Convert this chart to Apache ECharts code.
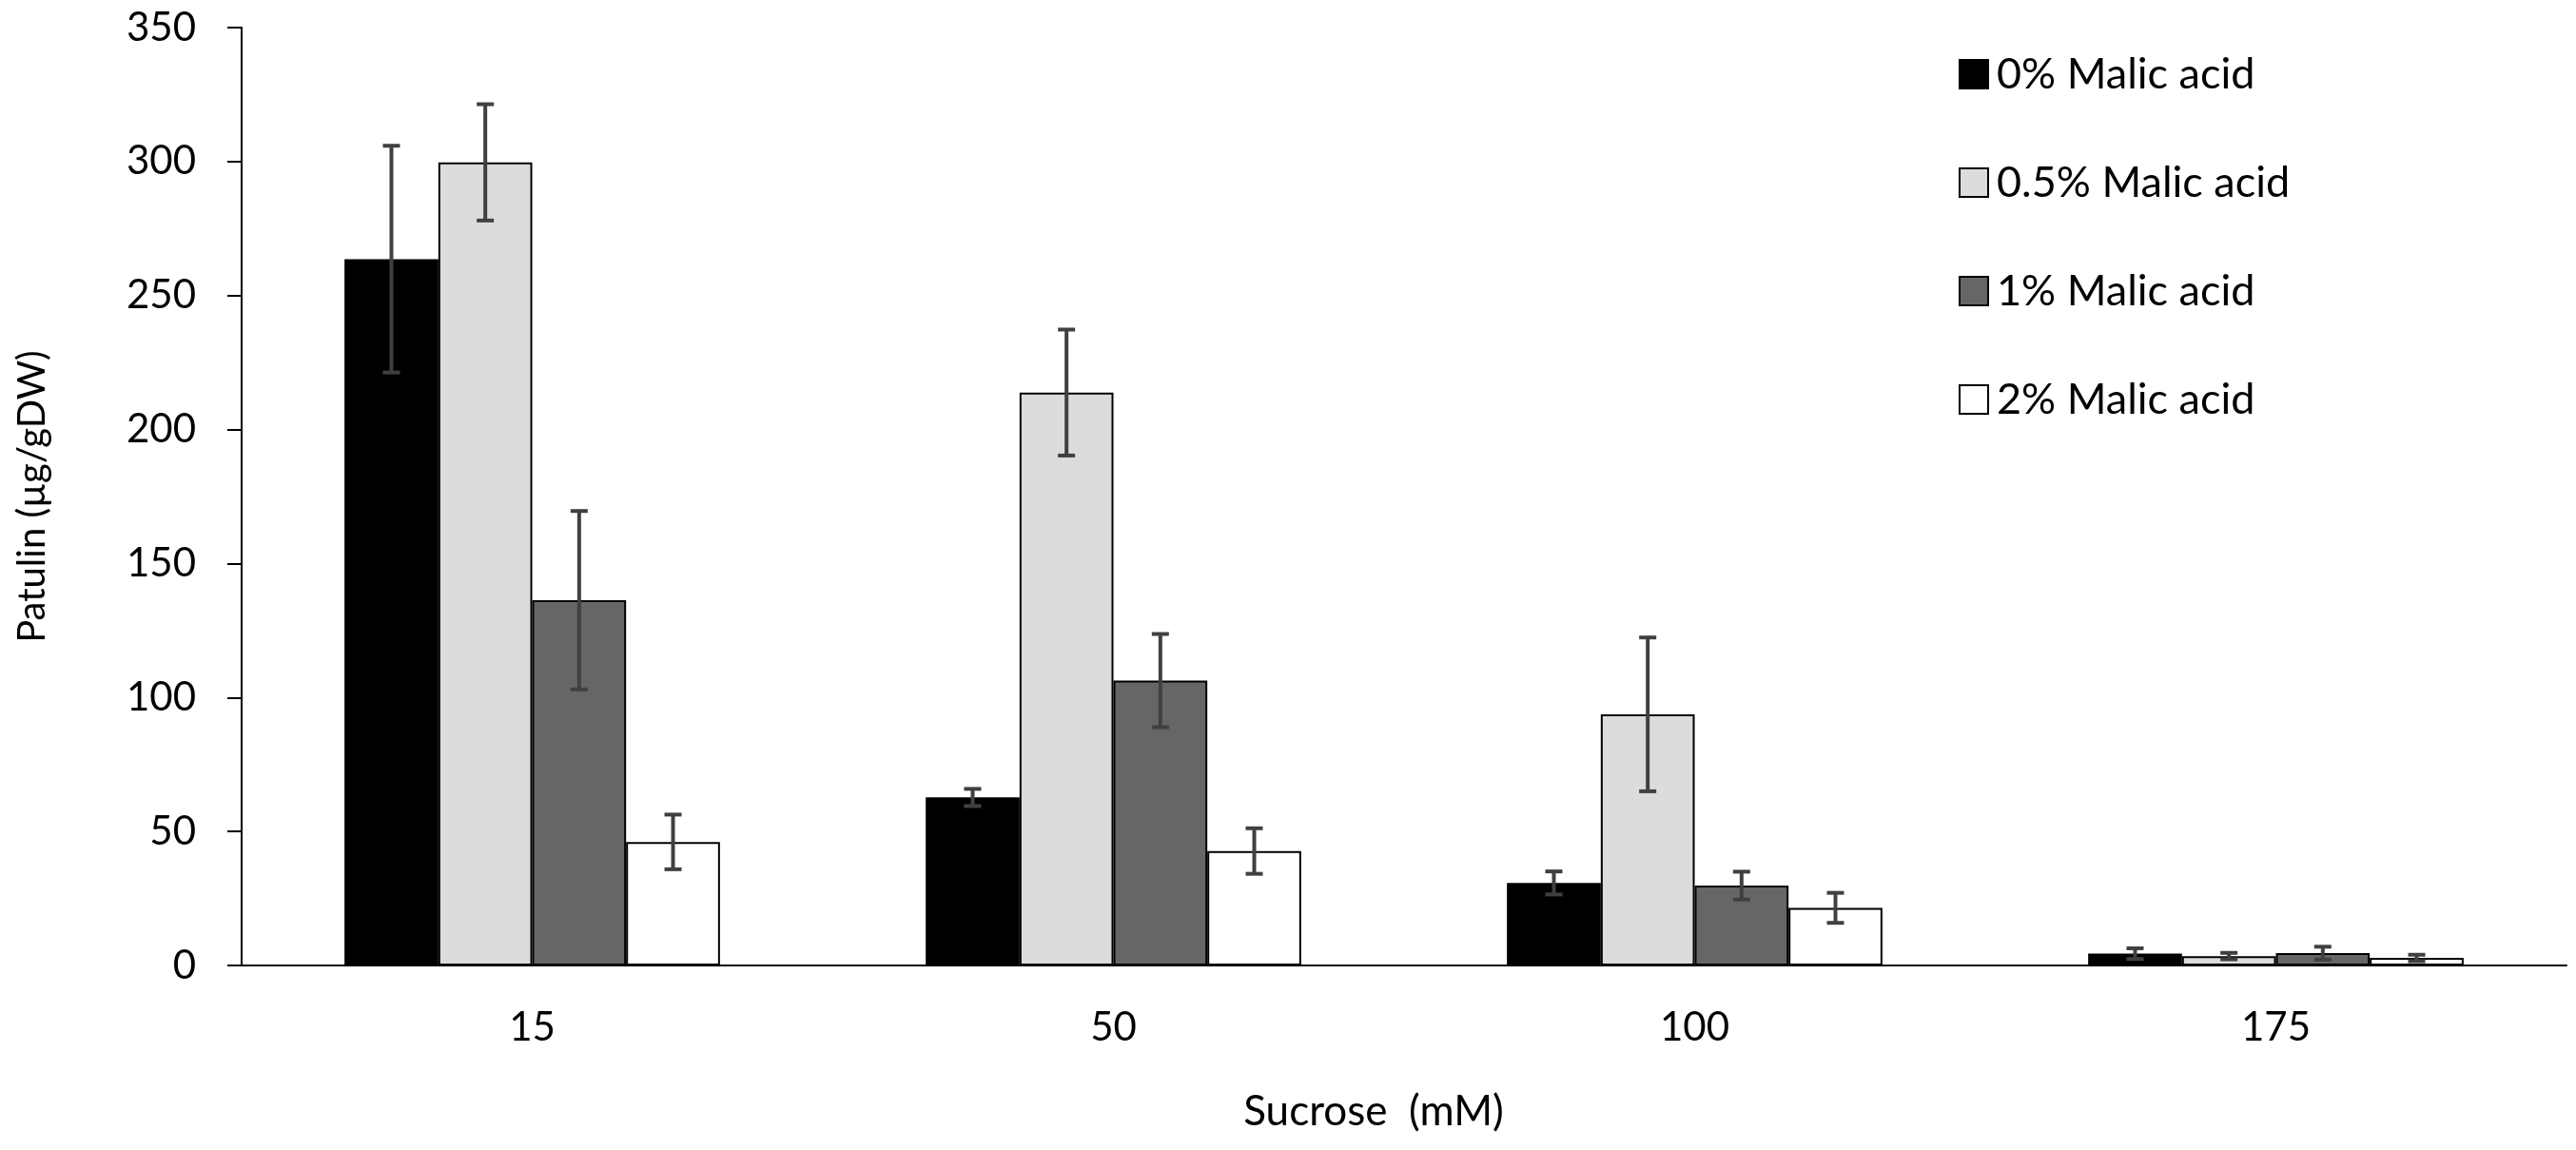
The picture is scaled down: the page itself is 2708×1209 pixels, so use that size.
<!DOCTYPE html>
<html>
<head>
<meta charset="utf-8">
<script src="https://cdn.jsdelivr.net/npm/echarts@6/dist/echarts.min.js"></script>
<style>
  html, body { margin: 0; padding: 0; background: #fff; }
  #visualisation { width: 2708px; height: 1209px; }
</style>
</head>
<body>
<div id="visualisation"></div>
<script>
// Sucrose concentrations (categories)
const sucrose = ['15', '50', '100', '175'];

// Series names
const seriesNames = ['0% Malic acid', '0.5% Malic acid', '1% Malic acid', '2% Malic acid'];

// Patulin means, per malic acid concentration
const malic0 = [263.6, 62.7, 30.8, 4.4];
const malic05 = [299.7, 213.8, 93.7, 3.5];
const malic1 = [136.3, 106.3, 29.8, 4.6];
const malic2 = [46.1, 42.7, 21.5, 2.8];

// Error bar half-lengths
const err0 = [42.3, 3.2, 4.3, 2.0];
const err05 = [21.7, 23.5, 28.7, 1.2];
const err1 = [33.3, 17.4, 5.2, 2.4];
const err2 = [10.2, 8.5, 5.6, 1.2];

const yTicks = { min: 0, max: 350, interval: 50 };

function drawVisualisation() {
    let visualisation = echarts.init(document.getElementById('visualisation'));

    const fills = ['#000000', '#dcdcdc', '#666666', '#ffffff'];
    const means = [malic0, malic05, malic1, malic2];
    const errs = [err0, err05, err1, err2];
    const catGap = 0.354;
    const font = 'Lato, "Open Sans", sans-serif';

    // bar series
    let series = means.map((vals, i) => ({
        name: seriesNames[i],
        type: 'bar',
        data: vals,
        barGap: '0%',
        barCategoryGap: (catGap * 100) + '%',
        itemStyle: { color: fills[i], borderColor: '#000', borderWidth: 2 }
    }));

    // error bars, drawn through the axes
    errs.forEach((e, i) => {
        series.push({
            type: 'custom',
            z: 10,
            silent: true,
            data: e.map((d, k) => [k, means[i][k], d]),
            encode: { x: 0, y: 1 },
            renderItem: function (params, api) {
                const k = api.value(0);
                const v = api.value(1);
                const d = api.value(2);
                const band = api.size([1, 0])[0];
                const bw = band * (1 - catGap) / 4;
                const off = (i - 1.5) * bw;
                const top = api.coord([k, v + d]);
                const bot = api.coord([k, v - d]);
                const x = top[0] + off;
                const cap = 9;
                const st = { stroke: '#404040', lineWidth: 4 };
                return {
                    type: 'group',
                    children: [
                        { type: 'line', shape: { x1: x, y1: top[1], x2: x, y2: bot[1] }, style: st },
                        { type: 'line', shape: { x1: x - cap, y1: top[1], x2: x + cap, y2: top[1] }, style: st },
                        { type: 'line', shape: { x1: x - cap, y1: bot[1], x2: x + cap, y2: bot[1] }, style: st }
                    ]
                };
            }
        });
    });

    let option = {
        animation: false,
        backgroundColor: '#ffffff',
        textStyle: { fontFamily: font, color: '#000' },
        grid: { left: 254, right: 10, top: 29, bottom: 194 },
        legend: {
            data: seriesNames,
            orient: 'vertical',
            left: 2054,
            top: 48,
            itemWidth: 30,
            itemHeight: 30,
            itemGap: 64,
            icon: 'rect',
            textStyle: { fontFamily: font, fontSize: 45, lineHeight: 50, color: '#000', padding: [0, 0, 0, 4] }
        },
        xAxis: {
            type: 'category',
            data: sucrose,
            name: 'Sucrose  (mM)',
            nameLocation: 'middle',
            nameGap: 132,
            nameTextStyle: { fontFamily: font, fontSize: 44, color: '#000', padding: [0, 64, 0, 0] },
            axisLine: { lineStyle: { color: '#000', width: 2 } },
            axisTick: { length: 17, lineStyle: { color: '#000', width: 2 } },
            axisLabel: { fontFamily: font, fontSize: 42, color: '#000', margin: 44 }
        },
        yAxis: {
            type: 'value',
            min: yTicks.min,
            max: yTicks.max,
            interval: yTicks.interval,
            name: 'Patulin (µg/gDW)',
            nameLocation: 'middle',
            nameGap: 200,
            nameTextStyle: { fontFamily: font, fontSize: 40, color: '#000' },
            axisLine: { show: true, lineStyle: { color: '#000', width: 2 } },
            axisTick: { show: true, length: 15, lineStyle: { color: '#000', width: 2 } },
            axisLabel: { fontFamily: font, fontSize: 42, color: '#000', margin: 48 },
            splitLine: { show: false }
        },
        series: series
    };

    visualisation.setOption(option);
}

window.addEventListener('load', drawVisualisation);
</script>
</body>
</html>
